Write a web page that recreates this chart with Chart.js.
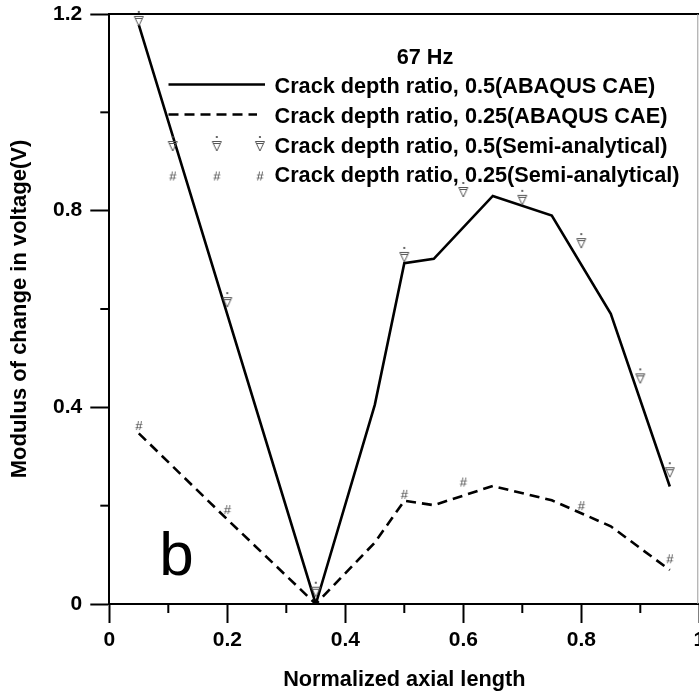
<!DOCTYPE html>
<html>
<head>
<meta charset="utf-8">
<script src="https://cdn.jsdelivr.net/npm/chart.js@4.4.1/dist/chart.umd.min.js"></script>
<style>
  html, body { margin: 0; padding: 0; background: #ffffff; overflow: hidden; }
  #wrap { position: absolute; left: 0; top: 0; width: 699px; height: 698px; overflow: hidden; }
  canvas { display: block; }
</style>
</head>
<body>
<div id="wrap"><canvas id="c" width="720" height="698"></canvas></div>
<script>
// ---- data ----
const xAbaqus05 = [0.05, 0.35, 0.45, 0.5, 0.55, 0.65, 0.75, 0.85, 0.95];
const yAbaqus05 = [1.178, 0.0, 0.405, 0.693, 0.702, 0.830, 0.790, 0.590, 0.239];

const xAbaqus025 = [0.05, 0.2, 0.35, 0.45, 0.5, 0.55, 0.65, 0.75, 0.85, 0.95];
const yAbaqus025 = [0.347, 0.172, 0.0, 0.125, 0.210, 0.201, 0.240, 0.211, 0.158, 0.069];

const xSemi05 = [0.05, 0.2, 0.35, 0.5, 0.6, 0.7, 0.8, 0.9, 0.95];
const ySemi05 = [1.186, 0.614, 0.025, 0.706, 0.838, 0.822, 0.734, 0.459, 0.268];

const xSemi025 = [0.05, 0.2, 0.5, 0.6, 0.8, 0.95];
const ySemi025 = [0.362, 0.191, 0.222, 0.247, 0.199, 0.091];

const xTicks = [0, 0.2, 0.4, 0.6, 0.8, 1];
const yTicks = [0, 0.4, 0.8, 1.2];
const xMinorTicks = [0.1, 0.3, 0.5, 0.7, 0.9];
const yMinorTicks = [0.2, 0.6, 1.0];

const seriesLabels = [
  'Crack depth ratio, 0.5(ABAQUS CAE)',
  'Crack depth ratio, 0.25(ABAQUS CAE)',
  'Crack depth ratio, 0.5(Semi-analytical)',
  'Crack depth ratio, 0.25(Semi-analytical)'
];
const legendTitle = '67 Hz';
const panelLetter = 'b';

const FONT = "'Liberation Sans', Arial, Helvetica, sans-serif";
const pts = (xs, ys) => xs.map((x, i) => ({ x: x, y: ys[i] }));

// ---- marker glyphs ----
function triangleMarker() {
  const c = document.createElement('canvas');
  c.width = 14; c.height = 26;
  const g = c.getContext('2d');
  g.strokeStyle = '#555';
  g.lineWidth = 1;
  g.beginPath();
  g.moveTo(2.5, 8.5); g.lineTo(11.5, 8.5); g.lineTo(7, 18); g.closePath();
  g.stroke();
  g.beginPath(); g.moveTo(4, 10.5); g.lineTo(10, 10.5); g.stroke();
  g.fillStyle = '#444';
  g.beginPath(); g.arc(7, 4, 1.1, 0, Math.PI * 2); g.fill();
  return c;
}
function hashMarker() {
  const c = document.createElement('canvas');
  c.width = 14; c.height = 16;
  const g = c.getContext('2d');
  g.fillStyle = '#333';
  g.font = '13px ' + FONT;
  g.textAlign = 'center';
  g.textBaseline = 'middle';
  g.fillText('#', 7, 8.5);
  return c;
}
const triImg = triangleMarker();
const hashImg = hashMarker();

// ---- extra drawing: frame, minor ticks, legend, panel letter ----
const decorations = {
  id: 'decorations',
  afterDraw(chart) {
    const { ctx, chartArea: a, scales } = chart;
    const xs = scales.x, ys = scales.y;
    ctx.save();
    // frame top / right
    ctx.strokeStyle = '#000';
    ctx.lineWidth = 2;
    ctx.beginPath();
    ctx.moveTo(a.left - 1, a.top); ctx.lineTo(a.right, a.top);
    ctx.stroke();
    ctx.strokeStyle = '#9a9a9a';
    ctx.lineWidth = 1;
    ctx.beginPath();
    ctx.moveTo(a.right - 1.5, a.top); ctx.lineTo(a.right - 1.5, a.bottom);
    ctx.stroke();

    // minor ticks
    ctx.strokeStyle = '#000';
    ctx.lineWidth = 2;
    xMinorTicks.forEach(v => {
      const px = xs.getPixelForValue(v);
      ctx.beginPath(); ctx.moveTo(px, a.bottom); ctx.lineTo(px, a.bottom + 9); ctx.stroke();
    });
    yMinorTicks.forEach(v => {
      const py = ys.getPixelForValue(v);
      ctx.beginPath(); ctx.moveTo(a.left, py); ctx.lineTo(a.left - 9, py); ctx.stroke();
    });

    // legend
    ctx.fillStyle = '#000';
    ctx.font = 'bold 21.7px ' + FONT;
    ctx.textBaseline = 'middle';
    ctx.textAlign = 'center';
    ctx.fillText(legendTitle, 425, 58);

    ctx.textAlign = 'left';
    const textX = 274.5;
    const rows = [87, 117, 147, 176.5];
    const sampleL = 168.5;
    // solid
    ctx.lineWidth = 2.6;
    ctx.setLineDash([]);
    ctx.beginPath(); ctx.moveTo(sampleL, rows[0] - 2.5); ctx.lineTo(265, rows[0] - 2.5); ctx.stroke();
    // dashed
    ctx.setLineDash([10, 6]);
    ctx.beginPath(); ctx.moveTo(sampleL, rows[1] - 2.5); ctx.lineTo(257, rows[1] - 2.5); ctx.stroke();
    ctx.setLineDash([]);
    [172.7, 216.8, 259.9].forEach(mx => {
      ctx.drawImage(triImg, mx - triImg.width / 2, rows[2] - 1 - triImg.height / 2);
      ctx.drawImage(hashImg, mx - hashImg.width / 2, rows[3] - hashImg.height / 2);
    });
    seriesLabels.forEach((t, i) => ctx.fillText(t, textX, rows[i]));

    // panel letter
    ctx.font = '62px ' + FONT;
    ctx.textBaseline = 'alphabetic';
    ctx.fillText(panelLetter, a.left + 50, a.bottom - 29);
    ctx.restore();
  }
};

const fmt = v => {
  const r = Math.round(v * 10) / 10;
  return r === 0 ? '0' : (r === 1 ? '1' : String(r));
};

new Chart(document.getElementById('c'), {
  type: 'scatter',
  data: {
    datasets: [
      {
        label: seriesLabels[0], data: pts(xAbaqus05, yAbaqus05), showLine: true,
        borderColor: '#000', borderWidth: 2.6, pointRadius: 0, order: 2, tension: 0
      },
      {
        label: seriesLabels[1], data: pts(xAbaqus025, yAbaqus025), showLine: true,
        borderColor: '#000', borderWidth: 2.6, borderDash: [10, 6], pointRadius: 0, order: 3, tension: 0
      },
      {
        label: seriesLabels[2], data: pts(xSemi05, ySemi05), showLine: false,
        pointStyle: triImg, pointRadius: 7, order: 0, clip: false
      },
      {
        label: seriesLabels[3], data: pts(xSemi025, ySemi025), showLine: false,
        pointStyle: hashImg, pointRadius: 7, order: 1, clip: false
      }
    ]
  },
  options: {
    responsive: false,
    devicePixelRatio: 1,
    animation: false,
    layout: { padding: { top: 14, right: 20.7, bottom: 0, left: 0 } },
    plugins: { legend: { display: false }, tooltip: { enabled: false } },
    scales: {
      x: {
        type: 'linear', min: 0, max: 1,
        afterFit: s => { s.height = 94; s.paddingLeft = 0; s.paddingRight = 0; },
        afterBuildTicks: s => { s.ticks = xTicks.map(v => ({ value: v })); },
        ticks: { callback: fmt, color: '#000', padding: 5, maxRotation: 0, autoSkip: false,
                 font: { family: FONT, size: 21, weight: 'bold' } },
        grid: { drawOnChartArea: false, drawTicks: true, tickLength: 19, tickWidth: 2, tickColor: '#000', color: '#000' },
        border: { display: true, color: '#000', width: 2 },
        title: { display: true, text: 'Normalized axial length', color: '#000',
                 font: { family: FONT, size: 21.7, weight: 'bold' }, padding: { top: 0, bottom: 5 } }
      },
      y: {
        type: 'linear', min: 0, max: 1.2,
        afterFit: s => { s.width = 109.3; s.paddingTop = 0; s.paddingBottom = 0; },
        afterBuildTicks: s => { s.ticks = yTicks.map(v => ({ value: v })); },
        ticks: { callback: fmt, color: '#000', padding: 8, autoSkip: false,
                 font: { family: FONT, size: 21, weight: 'bold' } },
        grid: { drawOnChartArea: false, drawTicks: true, tickLength: 19, tickWidth: 2, tickColor: '#000', color: '#000' },
        border: { display: true, color: '#000', width: 2 },
        title: { display: true, text: 'Modulus of change in voltage(V)', color: '#000',
                 font: { family: FONT, size: 22, weight: 'bold' }, padding: { top: 7, bottom: 0 } }
      }
    }
  },
  plugins: [decorations]
});
</script>
</body>
</html>
